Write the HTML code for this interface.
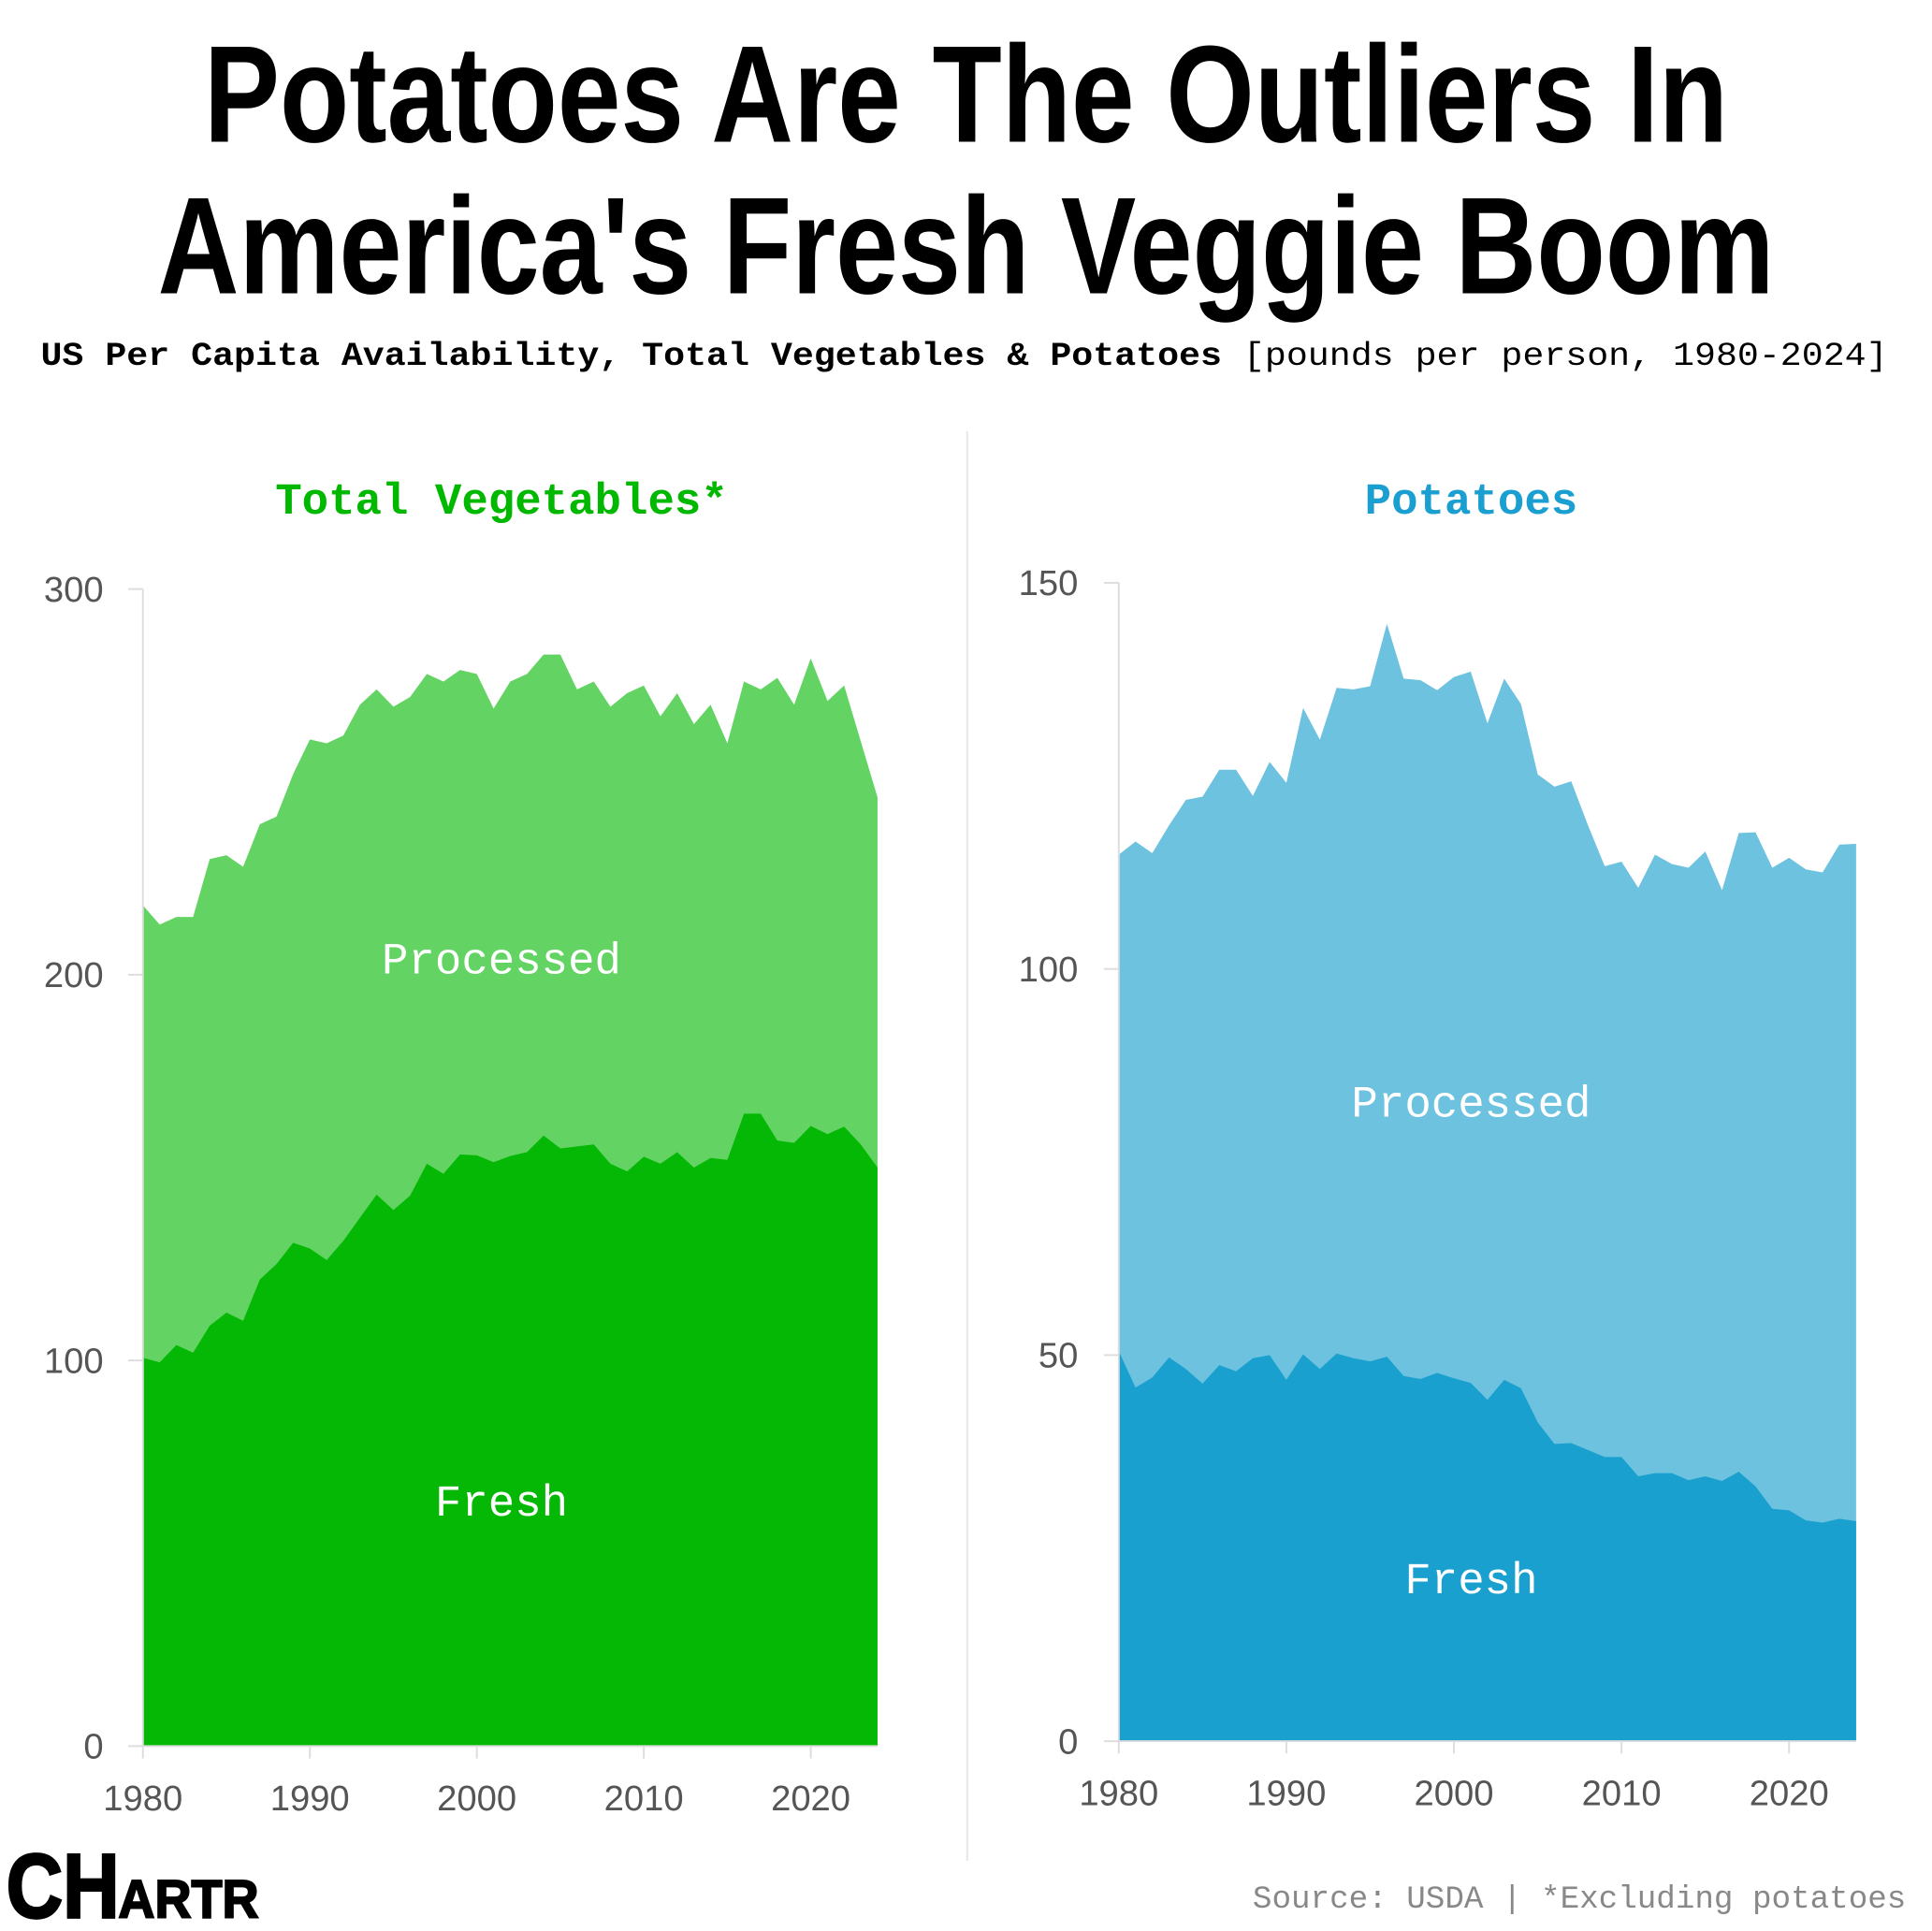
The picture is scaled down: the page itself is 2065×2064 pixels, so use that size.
<!DOCTYPE html>
<html><head><meta charset="utf-8"><style>
html,body{margin:0;padding:0;background:#fff;}
svg{display:block;}
</style></head><body>
<svg id="s" width="2065" height="2064" viewBox="0 0 1568 1567" preserveAspectRatio="none" xmlns="http://www.w3.org/2000/svg">
<rect width="1568" height="1567" fill="#fff"/>
<text x="784" y="115" text-anchor="middle" font-family="Liberation Sans Narrow, Liberation Sans, sans-serif" font-weight="bold" font-size="112" textLength="1237" lengthAdjust="spacingAndGlyphs">Potatoes Are The Outliers In</text>
<text x="784" y="238" text-anchor="middle" font-family="Liberation Sans Narrow, Liberation Sans, sans-serif" font-weight="bold" font-size="112" textLength="1312" lengthAdjust="spacingAndGlyphs">America's Fresh Veggie Boom</text>
<text x="33" y="296" font-family="Liberation Mono, monospace" font-size="27" textLength="1499" lengthAdjust="spacingAndGlyphs"><tspan font-weight="bold">US Per Capita Availability, Total Vegetables &amp; Potatoes</tspan> [pounds per person, 1980-2024]</text>
<line x1="785" y1="350" x2="785" y2="1510" stroke="#e6e6e6" stroke-width="1.5"/>
<text x="407" y="417" text-anchor="middle" fill="#00b800" font-family="Liberation Mono, monospace" font-weight="bold" font-size="36">Total Vegetables*</text>
<text x="1194" y="417" text-anchor="middle" fill="#1a9fd0" font-family="Liberation Mono, monospace" font-weight="bold" font-size="36">Potatoes</text>
<g id="g"></g>
<text x="1547" y="1548" text-anchor="end" fill="#888" font-family="Liberation Mono, monospace" font-size="26">Source: USDA | *Excluding potatoes</text>
<text x="5" y="1556" font-family="Liberation Sans, sans-serif" font-weight="bold" font-size="74" textLength="92" lengthAdjust="spacingAndGlyphs" fill="#000" stroke="#000" stroke-width="2">CH</text>
<text x="96" y="1556" font-family="Liberation Sans, sans-serif" font-weight="bold" font-size="44" textLength="114" lengthAdjust="spacingAndGlyphs" fill="#000" stroke="#000" stroke-width="1.5">ARTR</text>
</svg>
<script>
var vt=[218,213,215,215,230,231,228,239,241,252,261,260,262,270,274,269.5,272,278,276,279,278,269,276,278,283,283,274,276,269.5,273,275,267,273,265,270,260,276,274,277,270,282,271,275,260.5,246];
var vf=[100.7,99.5,104,102,109,112.4,110.3,121,125,130.5,129,126,131,137,143,139,142.7,151,148.4,153.4,153.2,151.4,153,154,158.3,155,155.5,156,151,149,152.8,151,154,150,152.5,152,164,164,157,156.4,160.8,158.7,160.6,156,150];
var pt=[114.8,116.5,115,118.6,121.9,122.3,125.8,125.8,122.4,126.8,124.1,133.8,129.7,136.4,136.2,136.6,144.7,137.6,137.4,136.1,137.8,138.5,131.8,137.6,134.3,125.2,123.6,124.3,118.6,113.3,113.9,110.5,114.8,113.6,113.1,115.2,110.2,117.6,117.7,113.1,114.4,112.9,112.5,116.1,116.2];
var pf=[50.5,45.8,47.1,49.7,48.2,46.3,48.7,47.9,49.6,50,46.8,50.1,48.2,50.2,49.6,49.2,49.8,47.3,46.9,47.7,47,46.4,44.2,46.8,45.7,41.3,38.5,38.6,37.7,36.8,36.8,34.3,34.7,34.7,33.8,34.3,33.7,34.9,33,30.1,29.9,28.6,28.3,28.8,28.5];
var h='';
function panel(x0,xs,y0,ys,top,bot,cl,cd,ticks,tl,lblx,py,fy){
  function X(i){return x0+i*xs;} function Y(v){return y0-v*ys;}
  var p='M'+X(0)+','+y0;for(var i=0;i<45;i++)p+='L'+X(i).toFixed(1)+','+Y(top[i]).toFixed(1);p+='L'+X(44)+','+y0+'Z';
  h+='<path d="'+p+'" fill="'+cl+'"/>';
  p='M'+X(0)+','+y0;for(i=0;i<45;i++)p+='L'+X(i).toFixed(1)+','+Y(bot[i]).toFixed(1);p+='L'+X(44)+','+y0+'Z';
  h+='<path d="'+p+'" fill="'+cd+'"/>';
  var ytop=Y(ticks[ticks.length-1]);
  h+='<line x1="'+x0+'" y1="'+ytop+'" x2="'+x0+'" y2="'+y0+'" stroke="#ddd" stroke-width="1.5"/>';
  ticks.forEach(function(t){var y=Y(t);h+='<line x1="'+(x0-12)+'" y1="'+y+'" x2="'+x0+'" y2="'+y+'" stroke="#ddd" stroke-width="1.5"/>';
    h+='<text x="'+tl+'" y="'+(y+10)+'" text-anchor="end" fill="#555" font-family="Liberation Sans, sans-serif" font-size="29">'+t+'</text>';});
  h+='<line x1="'+x0+'" y1="'+y0+'" x2="'+X(44)+'" y2="'+y0+'" stroke="#ddd" stroke-width="1.5"/>';
  [0,10,20,30,40].forEach(function(i){var x=X(i);h+='<line x1="'+x+'" y1="'+y0+'" x2="'+x+'" y2="'+(y0+10)+'" stroke="#ddd" stroke-width="1.5"/>';
    h+='<text x="'+x+'" y="'+(y0+52)+'" text-anchor="middle" fill="#555" font-family="Liberation Sans, sans-serif" font-size="29">'+(1980+i)+'</text>';});
  h+='<text x="'+lblx+'" y="'+py+'" text-anchor="middle" fill="#fff" font-family="Liberation Mono, monospace" font-size="36">Processed</text>';
  h+='<text x="'+lblx+'" y="'+fy+'" text-anchor="middle" fill="#fff" font-family="Liberation Mono, monospace" font-size="36">Fresh</text>';
}
panel(116,13.55,1417,3.13,vt,vf,'#63d463','#05b805',[0,100,200,300],84,407,790,1230);
panel(908,13.6,1413,6.267,pt,pf,'#6dc2df','#19a0cf',[0,50,100,150],875,1194,906,1293);
document.getElementById('g').innerHTML=h;
</script>
</body></html>
